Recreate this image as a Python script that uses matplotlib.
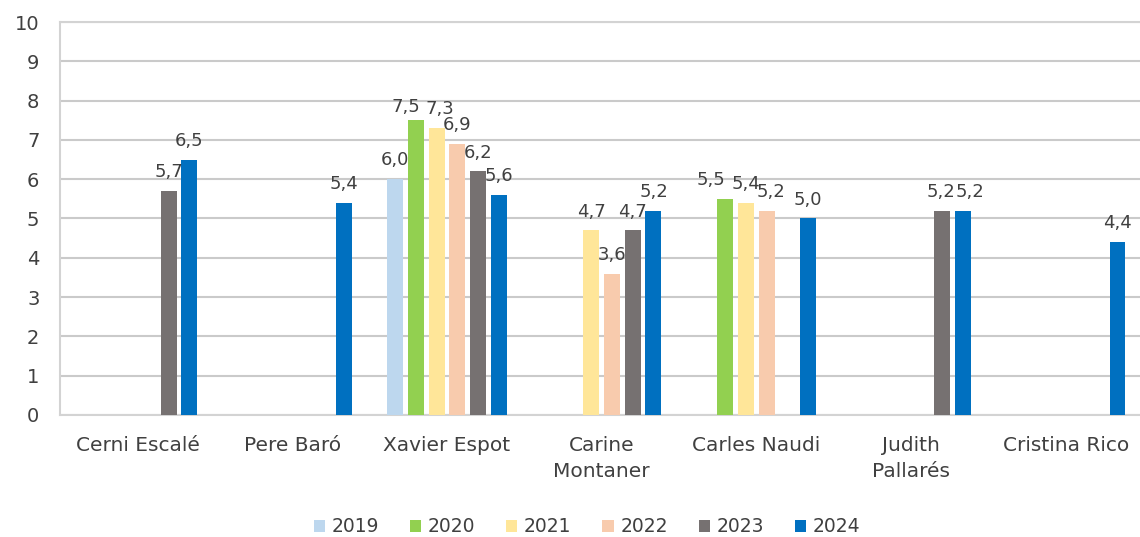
import numpy as np
import matplotlib
matplotlib.use("Agg")
import matplotlib.pyplot as plt

# names on the x axis
names = ["Cerni Escalé", "Pere Baró", "Xavier Espot", "Carine\nMontaner",
         "Carles Naudi", "Judith\nPallarés", "Cristina Rico"]
years = ["2019", "2020", "2021", "2022", "2023", "2024"]

# values per year, None = no bar
v2019 = [None, None, 6.0, None, None, None, None]
v2020 = [None, None, 7.5, None, 5.5, None, None]
v2021 = [None, None, 7.3, 4.7, 5.4, None, None]
v2022 = [None, None, 6.9, 3.6, 5.2, None, None]
v2023 = [5.7, None, 6.2, 4.7, None, 5.2, None]
v2024 = [6.5, 5.4, 5.6, 5.2, 5.0, 5.2, 4.4]

series = [v2019, v2020, v2021, v2022, v2023, v2024]
colors = ["#BDD7EE", "#92D050", "#FFE699", "#F8CBAD", "#767171", "#0070C0"]

# a few labels nudged like in the original (series idx, category idx) -> points
nudge = {(1, 2): (-7, -4), (1, 4): (-10, 0), (3, 4): (3, 0),
         (4, 5): (-1, 0), (5, 5): (5, 0), (2, 2): (2, 0)}

plt.rcParams['font.family'] = ['DejaVu Sans']
txt = "#404040"

fig = plt.figure(figsize=(11.4, 5.37), dpi=100)
ax = fig.add_axes([60.3 / 1140, 1 - 415 / 537, (1143 - 60.3) / 1140, (415 - 22) / 537])

x = np.arange(len(names))
slot = 0.134
width = 0.103

for i, (yr, vals, c) in enumerate(zip(years, series, colors)):
    idx = [j for j, v in enumerate(vals) if v is not None]
    xs = [x[j] + (i - 2.5) * slot for j in idx]
    ys = [vals[j] for j in idx]
    bars = ax.bar(xs, ys, width=width, color=c, label=yr, zorder=3)
    for j, b, v in zip(idx, bars, ys):
        dx, dy = nudge.get((i, j), (0, 0))
        ax.annotate(f"{v:.1f}".replace(".", ","),
                    (b.get_x() + b.get_width() / 2, v),
                    xytext=(dx, 7 + dy), textcoords="offset points",
                    ha="center", va="bottom", fontsize=13, color=txt, zorder=4)

ax.set_xlim(-0.5, len(names) - 0.5)
ax.set_ylim(0, 10)
ax.set_yticks(range(0, 11))
ax.set_xticks(x)
ax.set_xticklabels(names, fontsize=14.5, color=txt, linespacing=1.45)
ax.tick_params(axis="y", labelsize=14, labelcolor=txt, length=0, pad=15)
ax.tick_params(axis="x", length=0, pad=15)
ax.grid(axis="y", color="#CACACA", linewidth=1.5, zorder=0)
for s in ax.spines.values():
    s.set_color("#D3D3D3")
    s.set_linewidth(1.5)

ax.legend(loc="center", bbox_to_anchor=(587 / 1140, 1 - 527 / 537),
          bbox_transform=fig.transFigure, ncol=6, frameon=False,
          fontsize=13.5, handlelength=0.6, handleheight=0.6,
          handletextpad=0.35, columnspacing=1.65, labelcolor=txt)

fig.savefig("out.png", dpi=100)
